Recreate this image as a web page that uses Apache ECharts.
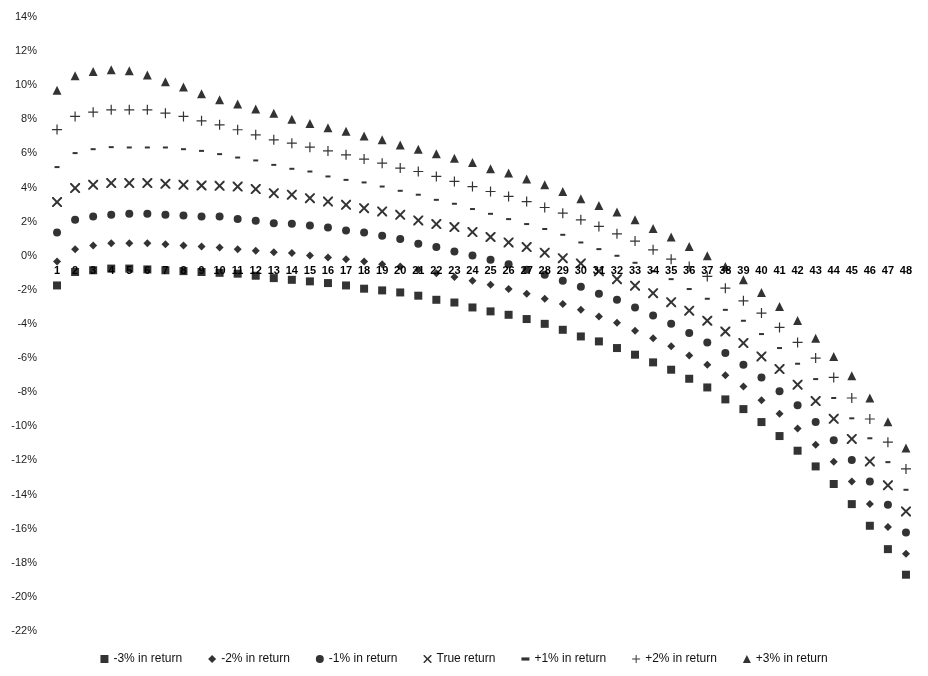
<!DOCTYPE html>
<html>
<head>
<meta charset="utf-8">
<script src="https://cdn.jsdelivr.net/npm/echarts@6/dist/echarts.min.js"></script>
<style>
  html, body { margin: 0; padding: 0; background: #fff; }
  #main { width: 928px; height: 676px; }
</style>
</head>
<body>
<div id="main"></div>
<script>
// months 1..48
const periods = [];
for (let i = 1; i <= 48; i++) periods.push(String(i));

const yTicks = { min: -22, max: 14, step: 2 };

const minus3 = [-1.74, -0.95, -0.85, -0.75, -0.75, -0.8, -0.85, -0.9, -0.95, -1.0, -1.05, -1.17, -1.31, -1.41, -1.5, -1.6,
  -1.74, -1.93, -2.03, -2.15, -2.34, -2.58, -2.74, -3.03, -3.26, -3.46, -3.71, -3.99, -4.34, -4.73, -5.02, -5.41,
  -5.8, -6.25, -6.68, -7.21, -7.72, -8.42, -8.99, -9.75, -10.57, -11.43, -12.35, -13.38, -14.56, -15.83, -17.2, -18.7];
const minus2 = [-0.33, 0.39, 0.6, 0.74, 0.74, 0.74, 0.68, 0.6, 0.55, 0.49, 0.39, 0.29, 0.2, 0.16, 0.02, -0.1,
  -0.2, -0.33, -0.49, -0.63, -0.82, -1.02, -1.25, -1.47, -1.7, -1.95, -2.23, -2.52, -2.83, -3.17, -3.56, -3.93,
  -4.39, -4.83, -5.31, -5.84, -6.39, -7.01, -7.66, -8.47, -9.26, -10.12, -11.08, -12.08, -13.23, -14.56, -15.9, -17.47];
const minus1 = [1.37, 2.11, 2.3, 2.4, 2.46, 2.46, 2.4, 2.36, 2.3, 2.3, 2.15, 2.05, 1.91, 1.88, 1.78, 1.66,
  1.48, 1.37, 1.17, 0.98, 0.7, 0.51, 0.25, 0.02, -0.23, -0.49, -0.82, -1.11, -1.47, -1.82, -2.23, -2.58,
  -3.03, -3.5, -3.99, -4.53, -5.08, -5.7, -6.39, -7.13, -7.95, -8.77, -9.75, -10.82, -11.98, -13.23, -14.6, -16.22];
const trueRet = [3.15, 3.97, 4.16, 4.26, 4.26, 4.26, 4.22, 4.16, 4.12, 4.1, 4.06, 3.91, 3.67, 3.58, 3.38, 3.18,
  2.99, 2.79, 2.6, 2.4, 2.07, 1.86, 1.68, 1.39, 1.1, 0.78, 0.51, 0.18, -0.14, -0.45, -0.9, -1.37,
  -1.75, -2.19, -2.72, -3.22, -3.81, -4.44, -5.12, -5.9, -6.64, -7.56, -8.52, -9.56, -10.74, -12.06, -13.46, -14.99];
const plus1 = [5.2, 6.02, 6.25, 6.37, 6.35, 6.35, 6.35, 6.25, 6.15, 5.96, 5.76, 5.59, 5.33, 5.1, 4.94, 4.65,
  4.45, 4.3, 4.06, 3.81, 3.58, 3.28, 3.05, 2.74, 2.46, 2.15, 1.86, 1.57, 1.23, 0.78, 0.39, 0.0,
  -0.41, -0.9, -1.37, -1.95, -2.52, -3.17, -3.81, -4.59, -5.41, -6.33, -7.23, -8.34, -9.53, -10.7, -12.1, -13.72];
const plus2 = [7.4, 8.17, 8.42, 8.56, 8.56, 8.56, 8.36, 8.17, 7.91, 7.68, 7.39, 7.09, 6.8, 6.6, 6.37, 6.15,
  5.92, 5.67, 5.43, 5.14, 4.94, 4.65, 4.36, 4.06, 3.77, 3.48, 3.18, 2.83, 2.5, 2.11, 1.72, 1.29,
  0.86, 0.35, -0.2, -0.63, -1.21, -1.9, -2.64, -3.36, -4.2, -5.08, -6.0, -7.13, -8.34, -9.57, -10.93, -12.5];
const plus3 = [9.7, 10.55, 10.8, 10.9, 10.85, 10.6, 10.2, 9.9, 9.5, 9.15, 8.9, 8.6, 8.35, 8.0, 7.75, 7.5,
  7.3, 7.03, 6.8, 6.5, 6.25, 5.98, 5.72, 5.47, 5.1, 4.85, 4.5, 4.16, 3.77, 3.34, 2.95, 2.56,
  2.11, 1.6, 1.1, 0.55, 0.0, -0.63, -1.41, -2.15, -2.97, -3.79, -4.83, -5.9, -7.03, -8.34, -9.73, -11.27];

// marker shapes
const xMark = 'path://M0,0L1.4,0L5,3.6L8.6,0L10,0L10,1.4L6.4,5L10,8.6L10,10L8.6,10L5,6.4L1.4,10L0,10L0,8.6L3.6,5L0,1.4Z';
const plusMark = 'path://M4.4,0H5.6V4.4H10V5.6H5.6V10H4.4V5.6H0V4.4H4.4Z';
const dashMark = 'path://M0,0H10V4H0Z';

const seriesDefs = [
  { name: '-3% in return', data: minus3, symbol: 'rect', size: 8 },
  { name: '-2% in return', data: minus2, symbol: 'diamond', size: 8 },
  { name: '-1% in return', data: minus1, symbol: 'circle', size: 8 },
  { name: 'True return', data: trueRet, symbol: xMark, size: 10 },
  { name: '+1% in return', data: plus1, symbol: dashMark, size: [5, 2] },
  { name: '+2% in return', data: plus2, symbol: plusMark, size: 10 },
  { name: '+3% in return', data: plus3, symbol: 'triangle', size: 9 }
];

const font = "'Liberation Sans Narrow', 'Liberation Sans', Arial, sans-serif";

const H = 676, gridTop = 17, gridBottom = 45;
// lift the category labels up to the 0% level
const plotH = H - gridTop - gridBottom;
const zeroLift = plotH * (0 - yTicks.min) / (yTicks.max - yTicks.min);

const chart = echarts.init(document.getElementById('main'));
chart.setOption({
  backgroundColor: '#fff',
  animation: false,
  color: ['#000'],
  grid: { left: 48, right: 13, top: gridTop, bottom: gridBottom },
  legend: {
    bottom: 6,
    left: 'center',
    itemGap: 26,
    itemWidth: 8,
    itemHeight: 8,
    textStyle: { fontFamily: font, fontSize: 12, color: '#111' },
    data: seriesDefs.map(s => ({ name: s.name, icon: s.symbol }))
  },
  xAxis: {
    type: 'category',
    data: periods,
    offset: -zeroLift,
    axisLine: { show: false, onZero: false },
    axisTick: { show: false },
    axisLabel: {
      interval: 0, margin: 10,
      fontFamily: font, fontSize: 11, fontWeight: 'bold', color: '#000'
    },
    splitLine: { show: false },
    z: 1
  },
  yAxis: {
    type: 'value',
    min: yTicks.min,
    max: yTicks.max,
    interval: yTicks.step,
    axisLine: { show: false },
    axisTick: { show: false },
    splitLine: { show: false },
    axisLabel: {
      margin: 11,
      fontFamily: font, fontSize: 11, color: '#222',
      formatter: v => v + '%'
    }
  },
  series: seriesDefs.map(s => ({
    name: s.name,
    type: 'scatter',
    data: s.data,
    symbol: s.symbol,
    symbolSize: s.size,
    z: 3,
    itemStyle: { color: '#000' }
  }))
});
</script>
</body>
</html>
